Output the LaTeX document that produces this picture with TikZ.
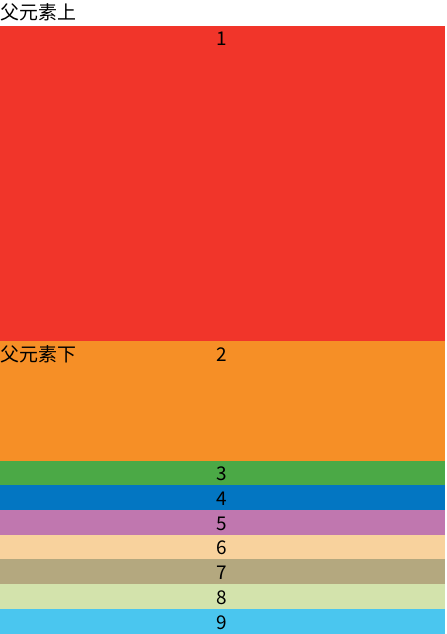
\documentclass[tikz,border=0pt]{standalone}
\usepackage{fontspec}
\setmainfont{Noto Sans CJK SC}
\usepackage{xcolor}
\definecolor{boxred}{RGB}{241,53,42}
\definecolor{boxorange}{RGB}{246,143,38}
\definecolor{boxgreen}{RGB}{75,169,70}
\definecolor{boxblue}{RGB}{3,118,194}
\definecolor{boxpurple}{RGB}{192,119,175}
\definecolor{boxpeach}{RGB}{248,210,157}
\definecolor{boxtan}{RGB}{180,168,127}
\definecolor{boxlime}{RGB}{211,227,172}
\definecolor{boxcyan}{RGB}{74,198,239}
\begin{document}
\begin{tikzpicture}[x=0.75pt, y=-0.75pt,
    lbl/.style={inner sep=0pt, anchor=base, font=\fontsize{14.2}{17}\selectfont},
    side/.style={inner sep=0pt, anchor=base west, font=\fontsize{14.2}{17}\selectfont}
]
    \useasboundingbox (0,0) rectangle (446,634);
    \fill[white] (0,0) rectangle (446,634);
    % blocks
    \fill[boxred]    (0,26)  rectangle (445,341);
    \fill[boxorange] (0,341) rectangle (445,461);
    \fill[boxgreen]  (0,461) rectangle (445,485);
    \fill[boxblue]   (0,485) rectangle (445,510);
    \fill[boxpurple] (0,510) rectangle (445,535);
    \fill[boxpeach]  (0,535) rectangle (445,559);
    \fill[boxtan]    (0,559) rectangle (445,584);
    \fill[boxlime]   (0,584) rectangle (445,609);
    \fill[boxcyan]   (0,609) rectangle (445,634);

    \node[side] (top) at (0,20)  {父元素上};
    \node[side] (bot) at (0,361) {父元素下};

    \node[lbl] (n1) at (222,46)  {1};
    \node[lbl] (n2) at (222,361) {2};
    \node[lbl] (n3) at (222,480) {3};
    \node[lbl] (n4) at (222,505) {4};
    \node[lbl] (n5) at (222,530) {5};
    \node[lbl] (n6) at (222,554) {6};
    \node[lbl] (n7) at (222,579) {7};
    \node[lbl] (n8) at (222,604) {8};
    \node[lbl] (n9) at (222,629) {9};
\end{tikzpicture}
\end{document}
